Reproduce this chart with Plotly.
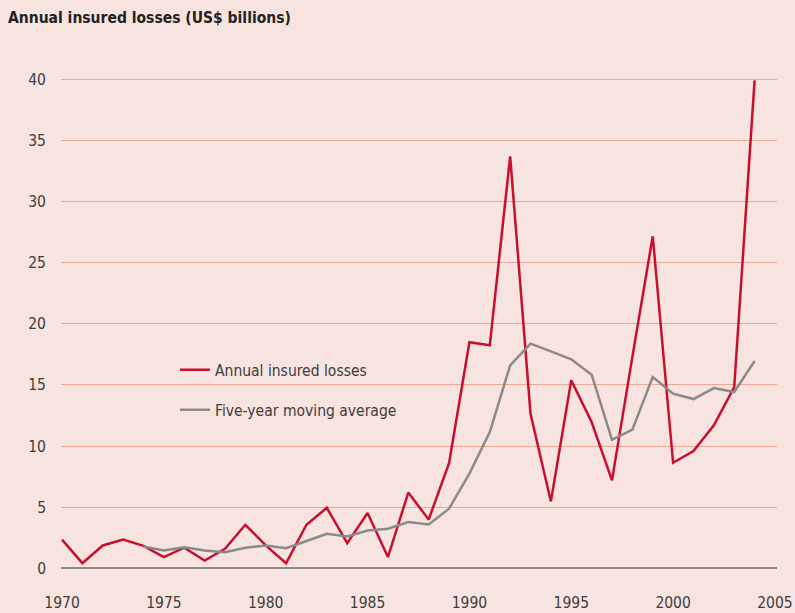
import plotly.graph_objects as go

years = list(range(1970, 2005))
annual_losses = [2.35, 0.43, 1.88, 2.37, 1.85, 0.93, 1.7, 0.65, 1.6, 3.57,
                 1.88, 0.43, 3.57, 4.96, 2.07, 4.53, 0.93, 6.2, 4.0, 8.6,
                 18.5, 18.24, 33.7, 12.65, 5.48, 15.38, 11.97, 7.2, 17.3, 27.16,
                 8.64, 9.6, 11.7, 14.83, 39.9]
ma_years = list(range(1974, 2005))
moving_avg = [1.8, 1.47, 1.74, 1.47, 1.33, 1.69, 1.88, 1.66, 2.24, 2.84,
              2.62, 3.1, 3.25, 3.79, 3.6, 4.88, 7.75, 11.15, 16.6, 18.38,
              17.75, 17.1, 15.84, 10.52, 11.35, 15.65, 14.29, 13.85, 14.75, 14.42,
              16.96]
y_ticks = [0, 5, 10, 15, 20, 25, 30, 35, 40]
x_ticks = [1970, 1975, 1980, 1985, 1990, 1995, 2000, 2005]

FONT = "Liberation Sans Narrow, DejaVu Sans Condensed, Arial Narrow, sans-serif"
BG = "#f7e3df"
RED = "#c8102e"
GREY = "#8a8a8a"

fig = go.Figure()
fig.add_trace(go.Scatter(x=years, y=annual_losses, mode="lines",
                         name="Annual insured losses",
                         line=dict(color=RED, width=2.5), legend="legend"))
fig.add_trace(go.Scatter(x=ma_years, y=moving_avg, mode="lines",
                         name="Five-year moving average",
                         line=dict(color=GREY, width=2.5), legend="legend2"))

W, H = 795, 613
ml, mr, mt, mb = 61, 18, 67, 25.4
pw = W - ml - mr
ph = H - mt - mb

def px_x(p):
    return (p - ml) / pw

def px_y(p):
    return 1 - (p - mt) / ph

fig.update_layout(
    width=W, height=H,
    paper_bgcolor=BG, plot_bgcolor=BG,
    margin=dict(l=ml, r=mr, t=mt, b=mb, autoexpand=False),
    font=dict(family=FONT, size=16, color="#3d3d3d"),
    title=dict(text="<b>Annual insured losses (US$ billions)</b>",
               xref="container", yref="container",
               x=8 / W, xanchor="left", y=1 - 18 / H, yanchor="middle",
               font=dict(family=FONT, size=15.5, color="#222222")),
    xaxis=dict(range=[1969.95, 2005.1], tickvals=x_ticks, showgrid=False,
               zeroline=False, showline=False, ticks="", ticklabelstandoff=3,
               automargin=False,
               tickfont=dict(size=15.5, color="#3d3d3d")),
    yaxis=dict(range=[-1.6, 41], tickvals=y_ticks, showgrid=True,
               gridcolor="#e8a99d", gridwidth=1.2,
               zeroline=True, zerolinecolor="#8c8c8c", zerolinewidth=2,
               showline=False, ticks="", ticklabelstandoff=14,
               automargin=False,
               tickfont=dict(size=15.5, color="#3d3d3d")),
    legend=dict(x=px_x(175), y=px_y(370), xanchor="left", yanchor="middle",
                bgcolor="rgba(0,0,0,0)", font=dict(size=15.5, color="#3d3d3d")),
    legend2=dict(x=px_x(175), y=px_y(410), xanchor="left", yanchor="middle",
                 bgcolor="rgba(0,0,0,0)", font=dict(size=15.5, color="#3d3d3d")),
    showlegend=True,
)

fig.write_html("out.html", config={"displayModeBar": False},
               post_script="document.body.style.margin='0';document.body.style.background='%s';" % BG)
